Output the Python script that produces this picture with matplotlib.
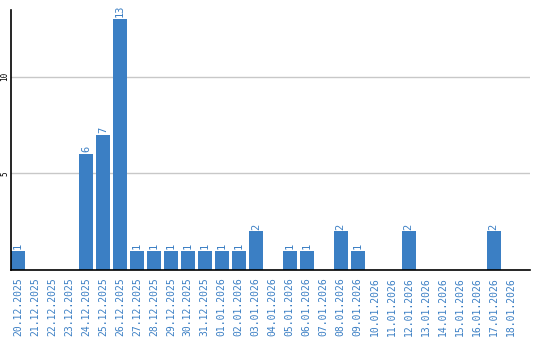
import matplotlib
matplotlib.use('Agg')
import matplotlib.pyplot as plt

# Datos del gráfico
fechas = ['20.12.2025', '21.12.2025', '22.12.2025', '23.12.2025', '24.12.2025',
          '25.12.2025', '26.12.2025', '27.12.2025', '28.12.2025', '29.12.2025',
          '30.12.2025', '31.12.2025', '01.01.2026', '02.01.2026', '03.01.2026',
          '04.01.2026', '05.01.2026', '06.01.2026', '07.01.2026', '08.01.2026',
          '09.01.2026', '10.01.2026', '11.01.2026', '12.01.2026', '13.01.2026',
          '14.01.2026', '15.01.2026', '16.01.2026', '17.01.2026', '18.01.2026']
valores = [1, 0, 0, 0, 6, 7, 13, 1, 1, 1,
           1, 1, 1, 1, 2, 0, 1, 1, 0, 2,
           1, 0, 0, 2, 0, 0, 0, 0, 2, 0]

azul = '#3b7fc4'

fig = plt.figure(figsize=(5.4, 3.4), dpi=100)
ax = fig.add_axes([11/540, 1 - 270/340, 519/540, 260/340])

x = list(range(len(fechas)))
ax.bar(x, valores, width=0.82, color=azul, align='edge', zorder=2)

for xi, v in zip(x, valores):
    if v > 0:
        ax.text(xi + 0.41, v + 0.08, str(v), rotation=90, ha='center', va='bottom',
                color=azul, fontsize=7.5, family='DejaVu Sans Mono')

ax.set_xlim(0, 30.55)
ax.set_ylim(0, 13.45)
ax.set_yticks([5, 10])
ax.set_yticklabels(['5', '10'], rotation=90, va='center', fontsize=5.5,
                   family='DejaVu Sans Mono')
ax.tick_params(axis='y', length=0, pad=1)
ax.set_xticks([xi + 0.41 for xi in x])
ax.set_xticklabels(fechas, rotation=90, color=azul, fontsize=7,
                   family='DejaVu Sans Mono')
ax.tick_params(axis='x', length=0, pad=5)
ax.grid(axis='y', color='#c8c8c8', linewidth=1, zorder=0)

for s in ['top', 'right']:
    ax.spines[s].set_visible(False)
ax.spines['left'].set_linewidth(1.2)
ax.spines['bottom'].set_linewidth(1.2)

fig.savefig('out.png', dpi=100)
